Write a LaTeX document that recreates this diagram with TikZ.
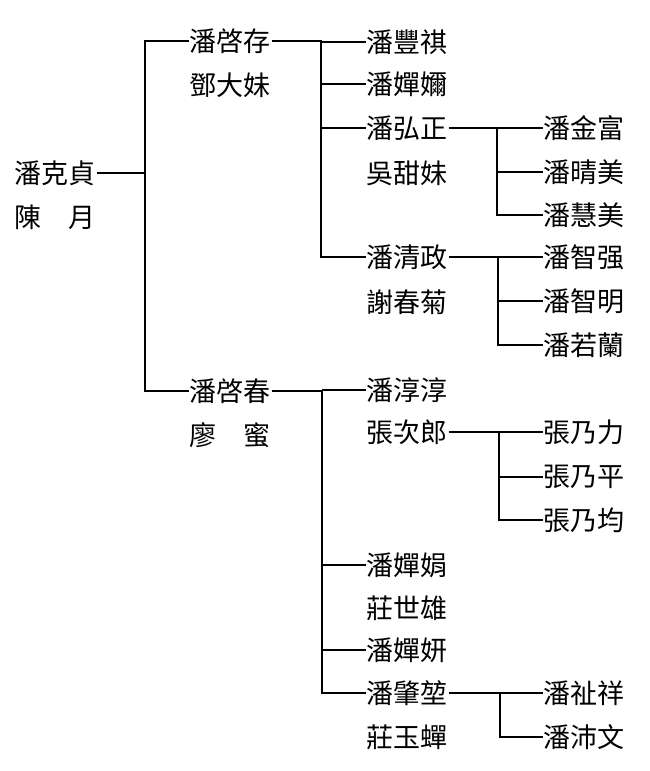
\documentclass[tikz,border=0pt]{standalone}
\usepackage{fontspec}
\newfontfamily\cjk{Noto Sans CJK TC}
\begin{document}
\begin{tikzpicture}[x=1pt, y=-1pt, line width=1.5pt,
	person/.style={anchor=west, inner sep=0pt, font=\cjk\fontsize{27}{27}\selectfont}]
	\useasboundingbox (0,0) rectangle (650,771);
	\path
		(14,173) node[person] (kz) {潘克貞}
		(14,217) node[person] (chen) {陳　月}
		(189,41) node[person] (qc) {潘啓存}
		(189,85) node[person] (deng) {鄧大妹}
		(189,391) node[person] (qchun) {潘啓春}
		(189,435) node[person] (liao) {廖　蜜}
	;
	\path
		(366,42) node[person] (fq) {潘豐祺}
		(366,84) node[person] (cm) {潘嬋嬭}
		(366,128) node[person] (hz) {潘弘正}
		(366,173) node[person] (wu) {吳甜妹}
		(366,257) node[person] (qz) {潘清政}
		(366,302) node[person] (xie) {謝春菊}
		(366,390) node[person] (cc) {潘淳淳}
		(366,432) node[person] (zcl) {張次郎}
		(366,565) node[person] (cj) {潘嬋娟}
		(366,608) node[person] (zsx) {莊世雄}
		(366,650) node[person] (cy) {潘嬋妍}
		(366,693) node[person] (zk) {潘肇堃}
		(366,737) node[person] (zyc) {莊玉蟬}
	;
	\path
		(543,128) node[person] (jf) {潘金富}
		(543,172) node[person] (qm) {潘晴美}
		(543,215) node[person] (hm) {潘慧美}
		(543,257) node[person] (zq) {潘智强}
		(543,301) node[person] (zm) {潘智明}
		(543,345) node[person] (rl) {潘若蘭}
		(543,432) node[person] (nl) {張乃力}
		(543,477) node[person] (np) {張乃平}
		(543,520) node[person] (nj) {張乃均}
		(543,693) node[person] (zx) {潘祉祥}
		(543,737) node[person] (pw) {潘沛文}
	;
	\path
		(145,0) coordinate (s1)
		(321,0) coordinate (s2)
		(322,0) coordinate (s3)
		(497,0) coordinate (s4)
		(498,0) coordinate (s5)
		(499,0) coordinate (s6)
		(500,0) coordinate (s7)
	;
	\draw (kz.east) -- (kz -| s1);
	\draw (qc.west) -| (s1 |- qchun) -- (qchun.west);
	\draw (qc.east) -| (s2 |- qz) -- (qz.west)
		(s2 |- fq) -- (fq.west)
		(s2 |- cm) -- (cm.west)
		(s2 |- hz) -- (hz.west);
	\draw (hz.east) -| (s4 |- hm) -- (hm.west)
		(s4 |- jf) -- (jf.west)
		(s4 |- qm) -- (qm.west);
	\draw (qz.east) -| (s5 |- rl) -- (rl.west)
		(s5 |- zq) -- (zq.west)
		(s5 |- zm) -- (zm.west);
	\draw (qchun.east) -| (s3 |- zk) -- (zk.west)
		(s3 |- cc) -- (cc.west)
		(s3 |- cj) -- (cj.west)
		(s3 |- cy) -- (cy.west);
	\draw (zcl.east) -| (s6 |- nj) -- (nj.west)
		(s6 |- nl) -- (nl.west)
		(s6 |- np) -- (np.west);
	\draw (zk.east) -| (s7 |- pw) -- (pw.west)
		(s7 |- zx) -- (zx.west);
\end{tikzpicture}
\end{document}
